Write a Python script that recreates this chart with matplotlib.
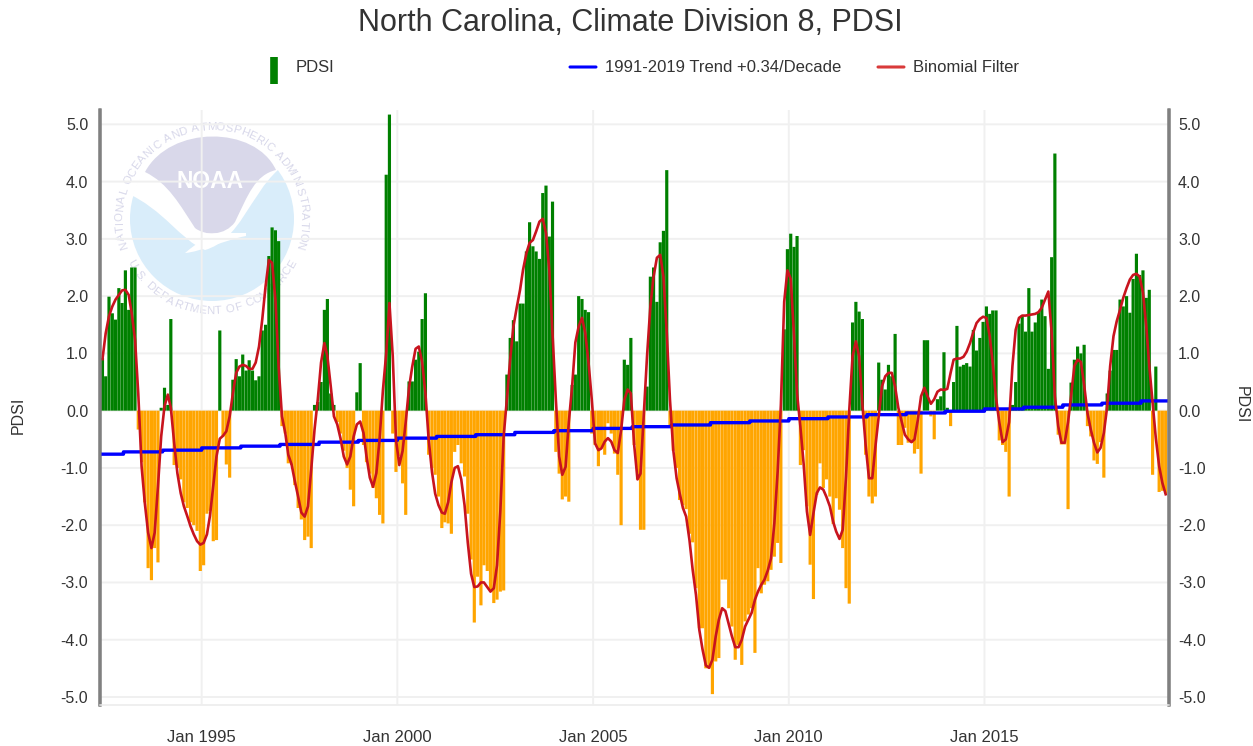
import numpy as np
import pandas as pd
import matplotlib
matplotlib.use('Agg')
import matplotlib.pyplot as plt
from matplotlib.patches import Circle, PathPatch
from matplotlib.path import Path

plt.rcParams['font.family'] = ['Liberation Sans', 'DejaVu Sans']
plt.rcParams['path.snap'] = False

TITLE = 'North Carolina, Climate Division 8, PDSI'
FIRST_MONTH = '1992-06-01'

pdsi = [
    .92, .6, 1.99, 1.7, 1.59, 2.14, 1.88, 2.45, 1.76, 2.5, 2.5, -.33,
    -.9, -1.6, -2.75, -2.96, -2.4, -2.65, .05, .4, .1, 1.6, -.95, -1.0,
    -1.2, -1.6, -1.7, -1.95, -2.0, -2.1, -2.8, -2.7, -1.8, -1.75, -2.28, -2.26,
    1.4, -.45, -.94, -1.17, .54, .9, .6, .98, .7, .88, .7, .53,
    .6, 1.4, 1.5, 2.7, 3.2, 3.15, 2.96, -.27, -.4, -.92, -.95, -1.3,
    -1.7, -1.9, -2.26, -2.2, -2.4, .1, .15, .5, 1.76, 1.95, .3, .1,
    -.2, -.4, -.7, -1.0, -1.38, -1.67, .32, .83, -.6, -.9, -1.1, -1.35,
    -1.53, -1.82, -1.97, 4.12, 5.17, -.4, -1.07, -.8, -1.27, -1.82, .51, .51,
    .89, 1.03, 1.6, 2.05, -.77, -1.0, -1.12, -1.5, -2.05, -1.95, -1.97, -2.15,
    -.72, -.6, -.92, -1.15, -1.8, -2.6, -3.7, -2.9, -3.4, -2.7, -2.8, -3.13,
    -3.36, -3.3, -3.16, -3.14, .63, 1.27, 1.58, 1.21, 1.87, 1.87, 2.78, 3.29,
    2.87, 2.78, 2.65, 3.8, 3.93, 3.04, 3.65, -.72, -1.1, -1.55, -1.5, -1.59,
    .45, .63, 2.0, 1.95, 1.76, 1.72, -.4, -.6, -.97, -.65, -.77, -.22,
    -.4, -.75, -1.12, -2.0, .89, .8, 1.27, -.6, -1.2, -2.08, -2.08, .42,
    2.34, 2.5, 1.9, 2.94, 3.14, 4.2, -.3, -.7, -1.0, -1.56, -1.65, -1.72,
    -2.15, -2.3, -3.1, -3.8, -3.8, -4.5, -4.5, -4.95, -4.38, -4.32, -2.95, -2.95,
    -3.45, -3.77, -4.35, -4.09, -4.44, -3.68, -3.56, -3.45, -4.23, -2.75, -3.19, -3.04,
    -2.98, -2.78, -2.55, -2.31, -2.66, 1.42, 2.82, 3.09, 2.86, 3.05, -.95, -.69,
    -1.67, -2.69, -3.29, -1.47, -.92, -1.35, -1.2, -1.5, -1.98, -1.53, -1.73, -2.4,
    -3.1, -3.37, 1.54, 1.9, 1.73, 1.6, -.77, -1.5, -1.62, -1.5, .84, .54,
    .37, .8, .6, 1.34, -.6, -.6, -.3, -.56, -.56, -.75, -.67, -1.1,
    1.23, 1.23, -.1, -.5, .2, .25, 1.02, .05, -.27, .5, 1.48, .77,
    .8, .83, .77, 1.41, 1.05, 1.27, 1.55, 1.82, 1.69, 1.75, 1.75, -.52,
    -.6, -.72, -1.5, .1, .5, 1.52, 1.66, 1.38, 2.14, 1.38, 1.54, 1.72,
    1.94, 1.65, .73, 2.68, 4.49, -.42, -.59, -.59, -1.72, .49, .89, 1.12,
    1.0, 1.15, -.27, -.45, -.87, -.93, -.55, -1.17, .3, .7, 1.06, 1.06,
    1.94, 1.82, 2.0, 1.71, 2.3, 2.74, 2.37, 2.45, 1.97, 2.11, -1.12, .77,
    -1.42, -1.4, -1.45,
]

binomial = [
    .9, 1.35, 1.65, 1.82, 1.94, 2.02, 2.1, 2.11, 2.02, 1.7, 1.24, .3,
    -.97, -1.61, -2.13, -2.4, -2.13, -1.32, -.45, .08, .28, .05, -.56, -1.09,
    -1.44, -1.67, -1.84, -2.02, -2.16, -2.28, -2.34, -2.31, -2.16, -1.84, -1.32, -.8,
    -.49, -.44, -.36, -.1, .3, .66, .77, .8, .78, .73, .73, .84,
    1.12, 1.59, 2.17, 2.63, 2.58, 1.94, .77, -.1, -.39, -.77, -.94, -1.23,
    -1.5, -1.78, -1.85, -1.67, -1.03, -.33, .19, .84, 1.18, .95, .43, -.1,
    -.24, -.48, -.8, -.94, -.8, -.45, -.24, -.19, -.39, -.8, -1.17, -1.33,
    -1.09, -.5, .35, 1.0, 1.88, .95, -.5, -.95, -.7, -.2, .4, .77,
    1.08, 1.12, .85, .3, -.5, -1.07, -1.45, -1.65, -1.78, -1.8, -1.6, -1.25,
    -1.0, -.97, -1.2, -1.65, -2.3, -2.85, -3.08, -3.07, -3.0, -3.0, -3.08, -3.16,
    -3.1, -2.7, -1.75, -.45, .2, .9, 1.47, 1.8, 2.11, 2.46, 2.75, 2.93,
    2.98, 3.13, 3.3, 3.35, 3.1, 2.46, 1.36, .19, -.8, -1.12, -.98, -.2,
    .43, 1.19, 1.47, 1.62, 1.36, .84, .2, -.57, -.69, -.66, -.54, -.48,
    -.54, -.69, -.74, -.34, .19, .37, .3, -.6, -1.2, -1.1, -.05, .95,
    1.82, 2.34, 2.67, 2.72, 2.34, 1.36, .19, -.69, -1.18, -1.44, -1.7, -1.85,
    -2.26, -2.78, -3.22, -3.83, -4.17, -4.45, -4.49, -4.35, -3.94, -3.65, -3.45, -3.5,
    -3.72, -3.94, -4.13, -4.13, -4.0, -3.77, -3.65, -3.53, -3.3, -3.16, -3.04, -2.95,
    -2.79, -2.58, -1.97, -1.06, .1, 1.9, 2.45, 2.3, 1.3, .3, -.28, -.92,
    -1.76, -2.17, -1.79, -1.44, -1.34, -1.38, -1.51, -1.67, -1.94, -2.11, -2.24, -2.08,
    -1.15, 0, .95, 1.21, .95, .1, -.6, -1.18, -1.18, -.63, -.1, .42,
    .6, .66, .66, .42, .05, -.19, -.42, -.5, -.55, -.5, -.16, .25,
    .4, .25, .12, .2, .33, .37, .36, .38, .66, .89, .91, .91,
    .94, 1.03, 1.18, 1.37, 1.53, 1.6, 1.64, 1.62, 1.3, .83, .22, -.2,
    -.55, -.5, -.2, .78, 1.41, 1.62, 1.66, 1.66, 1.67, 1.68, 1.69, 1.72,
    1.8, 1.94, 2.08, 1.36, .25, -.27, -.56, -.56, -.2, .25, .78, .89,
    .85, .45, -.04, -.33, -.56, -.73, -.65, -.39, .07, .78, 1.3, 1.56,
    1.76, 1.97, 2.14, 2.29, 2.37, 2.39, 2.34, 2.06, 1.47, .78, .15, -.48,
    -.97, -1.26, -1.46,
]

trend_years = list(range(1992, 2020))
trend = [-.76, -.72, -.69, -.65, -.62, -.59, -.55, -.52, -.48, -.45, -.42, -.38, -.35, -.31,
         -.28, -.25, -.21, -.18, -.14, -.11, -.07, -.04, -.01, .03, .06, .1, .13, .17]

y_ticks = [5, 4, 3, 2, 1, 0, -1, -2, -3, -4, -5]
x_tick_years = [1995, 2000, 2005, 2010, 2015]

TEXT = '#333333'
W, H = 1253, 746


def ring_text(bg, text, start, end, radius, top=True):
    # one character at a time round the seal, narrow ones take half a step
    weights = [0.5 if ch in ' .I' else 1.0 for ch in text]
    step = (end - start) / sum(weights)
    angle = start
    for ch, w in zip(text, weights):
        angle += step * w / 2
        px = 212 + radius * np.cos(np.radians(angle))
        py = 219 - radius * np.sin(np.radians(angle))
        rot = angle - 90 if top else angle + 90
        bg.text(px, py, ch, rotation=rot, rotation_mode='anchor', ha='center', va='center',
                fontsize=8.2, color='#d8d8ea')
        angle += step * w / 2


def draw_seal(bg):
    disc = Circle((212, 219), 82, fc='#d9edfa', ec='none')
    bg.add_patch(disc)
    # white band across the disc
    white = Path([(125, 130), (300, 130), (300, 170), (278, 170),
                  (250, 195), (240, 240), (205, 250),
                  (180, 240), (165, 210), (125, 192), (125, 130)],
                 [Path.MOVETO, Path.LINETO, Path.LINETO, Path.LINETO,
                  Path.CURVE4, Path.CURVE4, Path.CURVE4,
                  Path.CURVE4, Path.CURVE4, Path.CURVE4, Path.CLOSEPOLY])
    patch = PathPatch(white, fc='white', ec='none')
    bg.add_patch(patch)
    patch.set_clip_path(Circle((212, 219), 83, transform=bg.transData))
    # purple cap of the seal
    cap = Path([(145, 172), (170, 125), (255, 125), (276, 170),
                (255, 175), (248, 195), (235, 222), (225, 236), (205, 236), (195, 228),
                (180, 205), (168, 183), (145, 172)],
               [Path.MOVETO, Path.CURVE4, Path.CURVE4, Path.CURVE4,
                Path.CURVE4, Path.CURVE4, Path.CURVE4, Path.CURVE4, Path.CURVE4, Path.CURVE4,
                Path.CURVE4, Path.CURVE4, Path.CURVE4])
    bg.add_patch(PathPatch(cap, fc='#d9d8ea', ec='none'))
    # gull tail
    tail = Path([(205, 234), (225, 233), (246, 233), (246, 236),
                 (225, 240), (200, 252), (185, 253), (190, 248), (205, 240), (205, 234)],
                [Path.MOVETO, Path.LINETO, Path.LINETO, Path.LINETO,
                 Path.CURVE4, Path.CURVE4, Path.CURVE4, Path.CURVE4, Path.CURVE4, Path.CURVE4])
    bg.add_patch(PathPatch(tail, fc='white', ec='none'))
    bg.text(210, 181, 'NOAA', ha='center', va='center', fontsize=16.5, color='white',
            fontweight='bold')
    ring_text(bg, 'NATIONAL OCEANIC AND ATMOSPHERIC ADMINISTRATION', 199, -19, 92, top=True)
    ring_text(bg, 'U.S. DEPARTMENT OF COMMERCE', 207, 333, 92, top=False)


dates = pd.date_range(FIRST_MONTH, periods=len(pdsi), freq='MS') + pd.Timedelta(days=18)
colors = ['#008000' if v >= 0 else '#ffa500' for v in pdsi]

fig = plt.figure(figsize=(W / 100, H / 100), dpi=100)

bg = fig.add_axes([0, 0, 1, 1], zorder=0)
bg.set_xlim(0, W)
bg.set_ylim(H, 0)
bg.axis('off')
draw_seal(bg)

ax = fig.add_axes([100 / W, 1 - 705 / H, 1069 / W, 595 / H], zorder=1)
ax.patch.set_alpha(0)
ax.set_xlim(pd.Timestamp('1992-05-27'), pd.Timestamp('2019-09-19'))
ax.set_ylim(-5.14, 5.25)

ax.bar(dates, pdsi, width=29.5, color=colors, linewidth=0, zorder=2)

trend_x = [pd.Timestamp(y, 1, 1) for y in trend_years]
trend_x[0] = pd.Timestamp('1992-05-27')
trend_x.append(pd.Timestamp('2019-09-19'))
ax.step(trend_x, trend + [trend[-1]], where='post', color='#0000ff', lw=2.4, zorder=3)
ax.plot(dates, binomial, color='#c8141e', lw=1.9, zorder=4)

ax.set_yticks(y_ticks)
ax.set_yticklabels(['%.1f' % v for v in y_ticks])
ax.set_xticks([pd.Timestamp(y, 1, 1) for y in x_tick_years])
ax.set_xticklabels(['Jan %d' % y for y in x_tick_years])
ax.tick_params(axis='y', length=0, pad=8.5, labelsize=11.5, labelcolor=TEXT)
ax.tick_params(axis='x', length=0, pad=18, labelsize=12, labelcolor=TEXT)
ax.grid(True, color='#f0f0f0', lw=1.4, zorder=0)
ax.set_axisbelow(True)

right = ax.twinx()
right.set_ylim(ax.get_ylim())
right.set_yticks(y_ticks)
right.set_yticklabels(['%.1f' % v for v in y_ticks])
right.tick_params(axis='y', length=0, pad=6.5, labelsize=11.5, labelcolor=TEXT)

for a in [ax, right]:
    for side in ['left', 'right']:
        a.spines[side].set_color('#808080')
        a.spines[side].set_linewidth(2.2)
    a.spines['top'].set_visible(False)
    a.spines['bottom'].set_color('#eeeeee')
    a.spines['bottom'].set_linewidth(1)

# title, axis names and legend sit at fixed pixel places, so bg takes them
bg.text(630, 23, TITLE, ha='center', va='center', fontsize=22, color=TEXT)
bg.text(18, 415, 'PDSI', rotation=90, ha='center', va='center', fontsize=11.5, color=TEXT)
bg.text(1241, 405, 'PDSI', rotation=-90, ha='center', va='center', fontsize=11.5, color=TEXT)

bg.plot([274, 274], [57, 84], color='#008000', lw=5.5, solid_capstyle='butt')
bg.text(296, 68, 'PDSI', va='center', fontsize=12, color=TEXT)
bg.plot([570, 596], [67, 67], color='#0000ff', lw=2.2, solid_capstyle='round')
bg.text(605, 68, '1991-2019 Trend +0.34/Decade', va='center', fontsize=12, color=TEXT)
bg.plot([878, 904], [67, 67], color='#d93a3a', lw=2.2, solid_capstyle='round')
bg.text(913, 68, 'Binomial Filter', va='center', fontsize=12, color=TEXT)

fig.savefig('out.png', dpi=100, facecolor='white')
